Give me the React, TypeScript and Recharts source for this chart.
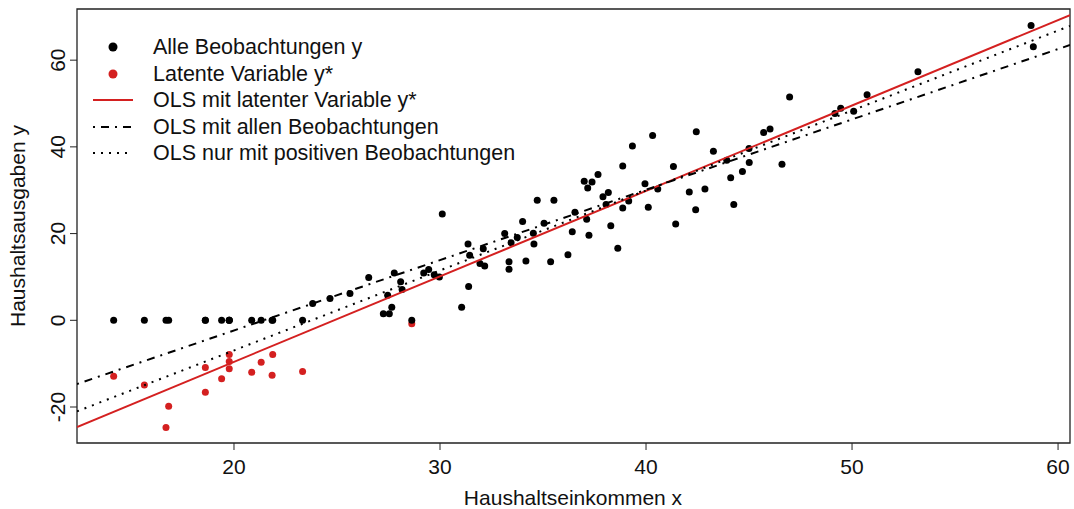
import React from 'react';
import { ScatterChart, Scatter, XAxis, YAxis, ReferenceArea, Legend } from 'recharts';

// censored observations: latent value y* (red), observed y = 0 (black)
const latentX = [14.16, 15.65, 16.7, 16.83, 18.61, 18.61, 19.4, 19.77, 19.77, 19.77, 20.86, 21.32, 21.85, 21.88, 23.33, 28.63];
const latentY = [-12.9, -14.9, -24.7, -19.8, -10.9, -16.6, -13.5, -7.9, -9.5, -11.2, -12.0, -9.7, -12.7, -7.9, -11.8, -0.8];

// uncensored observations
const positiveX = [
  23.82, 24.66, 25.63, 26.54, 27.25, 27.54, 27.66, 27.46, 27.78, 28.09, 28.16, 29.21, 29.45, 29.72, 29.97, 30.11,
  31.05, 31.36, 31.44, 31.39, 31.94, 32.17, 32.1, 33.14, 33.45, 33.75, 33.35, 33.35, 34.01, 34.17, 34.53, 34.56,
  34.72, 35.05, 35.37, 35.53, 36.21, 36.42, 36.55, 37.0, 37.12, 37.17, 37.23, 37.38, 37.67, 37.91, 38.06, 38.17,
  38.29, 38.63, 38.87, 38.87, 39.16, 39.34, 39.95, 40.11, 40.32, 40.57, 41.33, 41.44, 42.1, 42.41, 42.44, 42.86,
  43.27, 43.92, 44.11, 44.26, 44.68, 45.0, 45.01, 45.71, 46.02, 46.6, 46.97, 49.17, 49.45, 50.08, 50.73, 53.2,
  58.69, 58.8,
];
const positiveY = [
  3.9, 5.0, 6.2, 9.9, 1.5, 1.5, 3.0, 5.8, 10.9, 8.9, 7.1, 10.9, 11.7, 10.5, 10.0, 24.5,
  3.0, 17.6, 15.0, 7.8, 13.1, 12.5, 16.5, 20.0, 17.9, 19.1, 13.5, 11.8, 22.8, 13.7, 20.1, 17.6,
  27.7, 22.4, 13.5, 27.7, 15.1, 20.4, 24.9, 32.1, 23.3, 30.5, 19.6, 31.9, 33.6, 28.5, 26.7, 29.5,
  21.8, 16.6, 35.6, 25.9, 27.5, 40.2, 31.5, 26.1, 42.6, 30.3, 35.5, 22.2, 29.6, 25.5, 43.5, 30.3,
  39.0, 36.9, 32.9, 26.7, 34.3, 39.6, 36.4, 43.3, 44.1, 36.0, 51.5, 47.7, 48.9, 48.2, 52.0, 57.3,
  68.0, 63.1,
];

// regression lines, evaluated at the plot edges
const lineX = [12.38, 60.58];
const olsLatent = [-24.6, 70.4];
const olsAll = [-14.7, 63.5];
const olsPositive = [-21.0, 67.9];

const xTicks = [20, 30, 40, 50, 60];
const yTicks = [-20, 0, 20, 40, 60];

const FONT = '"Liberation Sans", Arial, sans-serif';
const RED = '#d42020';
const DOTDASH = '2 6 8 6';
const DOTTED = '2 6';

const latent = latentX.map((x, i) => ({ x, y: latentY[i] }));
const observed = [
  ...latentX.map(x => ({ x, y: 0 })),
  ...positiveX.map((x, i) => ({ x, y: positiveY[i] })),
];
const toLine = (ys: number[]) => lineX.map((x, i) => ({ x, y: ys[i] }));

const Dot = (color: string) => (p: any) => <circle cx={p.cx} cy={p.cy} r={3.5} fill={color} />;
const NoShape = () => <g />;

const XTick = (p: any) => (
  <text x={p.x} y={p.y + 22} textAnchor="middle" fontSize={21} fontFamily={FONT} fill="#111">
    {p.payload.value}
  </text>
);

const YTick = (p: any) => (
  <text
    transform={`translate(${p.x - 3},${p.y}) rotate(-90)`}
    textAnchor="middle"
    fontSize={21}
    fontFamily={FONT}
    fill="#111"
  >
    {p.payload.value}
  </text>
);

const legendRows = [
  { label: 'Alle Beobachtungen y', kind: 'dot', color: '#000' },
  { label: 'Latente Variable y*', kind: 'dot', color: RED },
  { label: 'OLS mit latenter Variable y*', kind: 'line', color: RED, dash: undefined },
  { label: 'OLS mit allen Beobachtungen', kind: 'line', color: '#000', dash: DOTDASH },
  { label: 'OLS nur mit positiven Beobachtungen', kind: 'line', color: '#000', dash: DOTTED },
];

const LegendBox = () => (
  <div style={{ fontFamily: FONT, fontSize: 21.5, color: '#111' }}>
    {legendRows.map(r => (
      <div key={r.label} style={{ display: 'flex', alignItems: 'center', height: 26.5 }}>
        <svg width={63} height={26} style={{ display: 'block' }}>
          {r.kind === 'dot' ? (
            <circle cx={23} cy={13} r={4.5} fill={r.color} />
          ) : (
            <line x1={3} x2={43} y1={13} y2={13} stroke={r.color} strokeWidth={2} strokeDasharray={r.dash} />
          )}
        </svg>
        <span style={{ lineHeight: '26.5px', whiteSpace: 'nowrap' }}>{r.label}</span>
      </div>
    ))}
  </div>
);

export default function App() {
  return (
    <div style={{ position: 'absolute', left: 0, top: 0, background: '#fff' }}>
      <ScatterChart width={1074} height={509} margin={{ top: 9, right: 4, left: 0, bottom: 0 }}>
        <XAxis
          type="number"
          dataKey="x"
          domain={[12.38, 60.58]}
          ticks={xTicks}
          allowDataOverflow
          height={66}
          axisLine={false}
          tickSize={7}
          tickLine={{ stroke: '#222' }}
          tick={XTick}
          label={{
            content: () => (
              <text x={573} y={505} textAnchor="middle" fontSize={21} fontFamily={FONT} fill="#111">
                Haushaltseinkommen x
              </text>
            ),
          }}
        />
        <YAxis
          type="number"
          dataKey="y"
          domain={[-28.3, 71.8]}
          ticks={yTicks}
          allowDataOverflow
          width={77}
          axisLine={false}
          tickSize={7}
          tickLine={{ stroke: '#222' }}
          tick={YTick}
          label={{
            content: () => (
              <text
                transform="translate(25,226) rotate(-90)"
                textAnchor="middle"
                fontSize={21}
                fontFamily={FONT}
                fill="#111"
              >
                Haushaltsausgaben y
              </text>
            ),
          }}
        />
        <ReferenceArea x1={12.38} x2={60.58} y1={-28.3} y2={71.8} fill="none" stroke="#222" strokeWidth={1.3} ifOverflow="visible" />
        <Legend
          layout="vertical"
          align="center"
          verticalAlign="middle"
          content={LegendBox}
          wrapperStyle={{ left: 90, top: 34, width: 500, height: 140 }}
        />
        <Scatter name="Latente Variable y*" data={latent} shape={Dot(RED)} isAnimationActive={false} />
        <Scatter name="Alle Beobachtungen y" data={observed} shape={Dot('#000')} isAnimationActive={false} />
        <Scatter
          name="OLS mit latenter Variable y*"
          data={toLine(olsLatent)}
          line={{ stroke: RED, strokeWidth: 2 }}
          shape={NoShape}
          isAnimationActive={false}
        />
        <Scatter
          name="OLS mit allen Beobachtungen"
          data={toLine(olsAll)}
          line={{ stroke: '#000', strokeWidth: 2, strokeDasharray: DOTDASH }}
          shape={NoShape}
          isAnimationActive={false}
        />
        <Scatter
          name="OLS nur mit positiven Beobachtungen"
          data={toLine(olsPositive)}
          line={{ stroke: '#000', strokeWidth: 2, strokeDasharray: DOTTED }}
          shape={NoShape}
          isAnimationActive={false}
        />
      </ScatterChart>
    </div>
  );
}
